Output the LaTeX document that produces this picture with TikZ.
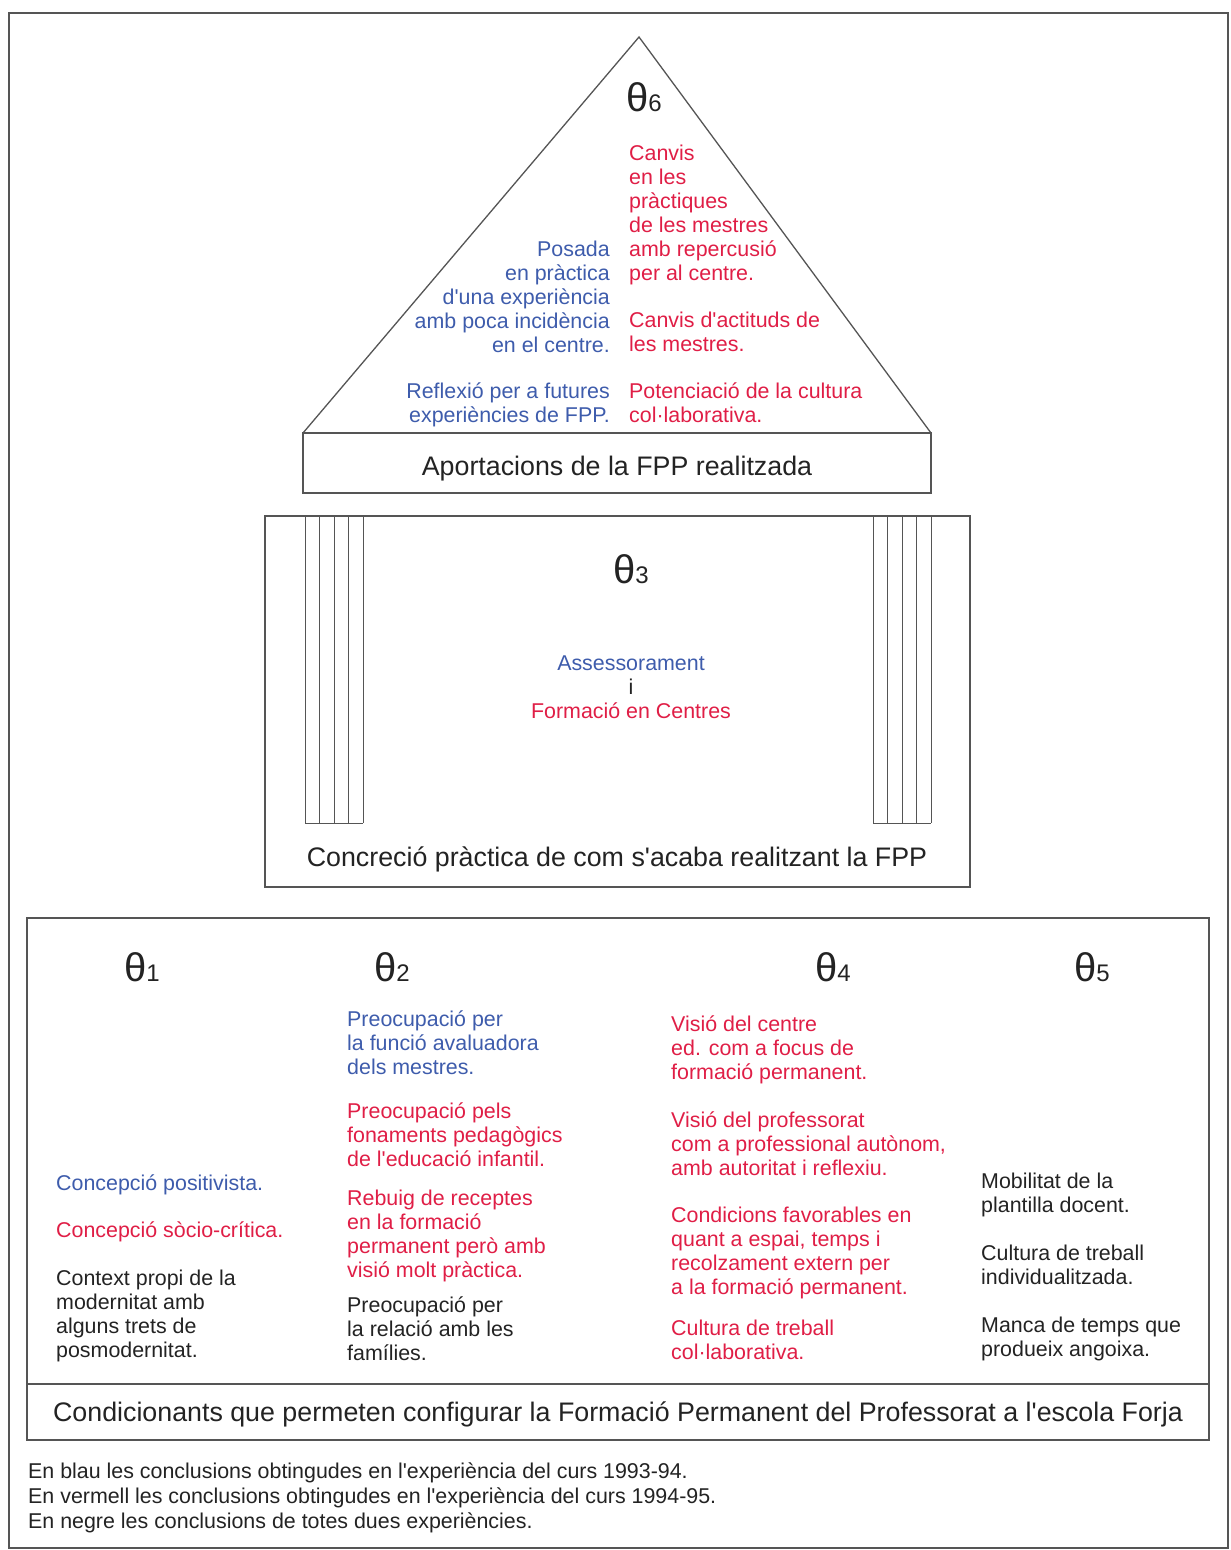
\documentclass[tikz,border=0pt]{standalone}
\usepackage{fontspec}
\setmainfont{Liberation Sans}
\newcommand\ap{\textquotesingle}
\definecolor{blueT}{RGB}{62,92,172}
\definecolor{redT}{RGB}{224,30,70}
\definecolor{blackT}{RGB}{35,35,35}
\definecolor{lineC}{RGB}{85,85,85}
\tikzset{
  frame/.style={draw=lineC, line width=1.3pt},
  thin/.style={draw=lineC, line width=0.9pt},
  body/.style={inner sep=0pt, font=\fontsize{21.4}{24}\selectfont, text=blackT},
  lblock/.style={body, anchor=north west, align=left},
  rblock/.style={body, anchor=north east, align=right},
  cblock/.style={body, anchor=north, align=center},
  title/.style={inner sep=0pt, anchor=base, font=\fontsize{26.8}{30}\selectfont, text=blackT},
  theta/.style={inner sep=0pt, anchor=base west, text=blackT},
}
\newcommand\thetalabel[1]{{\fontsize{40}{42}\selectfont θ}{\fontsize{24}{26}\selectfont #1}}
\begin{document}
\begin{tikzpicture}[x=1pt,y=-1pt]
\useasboundingbox (0,0) rectangle (1231,1550);
\fill[white] (0,0) rectangle (1231,1550);

% outer frame
\draw[draw=lineC, line width=2.2pt] (9,13) rectangle (1228,1548);

% roof: pediment and its base
\draw[frame] (303,433) -- (639,37) -- (931,433);
\draw[frame] (303,433) rectangle (931,493);
\node[title] (roofbase) at (617,475) {Aportacions de la FPP realitzada};
\node[theta] (t6) at (626,111) {\thetalabel{6}};
\node[rblock, text=blueT] (r1) at (610,239.2) {\strut Posada\\en pràctica\\d\ap una experiència\\amb poca incidència\\en el centre.};
\node[rblock, text=blueT] (r2) at (610,381.2) {\strut Reflexió per a futures\\experiències de FPP.};
\node[lblock, text=redT] (r3) at (629,143.2) {\strut Canvis\\en les\\pràctiques\\de les mestres\\amb repercusió\\per al centre.};
\node[lblock, text=redT] (r4) at (629,310.2) {\strut Canvis d\ap actituds de\\les mestres.};
\node[lblock, text=redT] (r5) at (629,381.2) {\strut Potenciació de la cultura\\col·laborativa.};

% middle body with two columns
\draw[frame] (265,516) rectangle (970,887);
\foreach \x in {305,319.5,334,348.5,363} \draw[thin] (\x,516) -- (\x,823);
\draw[thin] (305,823) -- (363,823);
\foreach \x in {873,887.5,902,916.5,931} \draw[thin] (\x,516) -- (\x,823);
\draw[thin] (873,823) -- (931,823);
\node[theta] (t3) at (613,583) {\thetalabel{3}};
\node[cblock] (mid) at (631,653.2) {\strut{\color{blueT}Assessorament}\\i\\{\color{redT}Formació en Centres}};
\node[title] (midbase) at (617,866) {Concreció pràctica de com s\ap acaba realitzant la FPP};

% foundation
\draw[frame] (27,918) rectangle (1209,1440);
\draw[frame] (27,1384) -- (1209,1384);
\node[title] (foot) at (618,1421) {Condicionants que permeten configurar la Formació Permanent del Professorat a l\ap escola Forja};

\node[theta] (t1) at (124,981) {\thetalabel{1}};
\node[theta] (t2) at (374,981) {\thetalabel{2}};
\node[theta] (t4) at (815,981) {\thetalabel{4}};
\node[theta] (t5) at (1074,981) {\thetalabel{5}};

% column 1
\node[lblock, text=blueT] (a1) at (56,1173.2) {\strut Concepció positivista.};
\node[lblock, text=redT] (a2) at (56,1220.2) {\strut Concepció sòcio-crítica.};
\node[lblock] (a3) at (56,1268.2) {\strut Context propi de la\\modernitat amb\\alguns trets de\\posmodernitat.};

% column 2
\node[lblock, text=blueT] (b1) at (347,1009.2) {\strut Preocupació per\\la funció avaluadora\\dels mestres.};
\node[lblock, text=redT] (b2) at (347,1101.2) {\strut Preocupació pels\\fonaments pedagògics\\de l\ap educació infantil.};
\node[lblock, text=redT] (b3) at (347,1188.2) {\strut Rebuig de receptes\\en la formació\\permanent però amb\\visió molt pràctica.};
\node[lblock] (b4) at (347,1295.2) {\strut Preocupació per\\la relació amb les\\famílies.};

% column 4
\node[lblock, text=redT] (c1) at (671,1014.2) {\strut Visió del centre\\ed. com a focus de\\formació permanent.};
\node[lblock, text=redT] (c2) at (671,1110.2) {\strut Visió del professorat\\com a professional autònom,\\amb autoritat i reflexiu.};
\node[lblock, text=redT] (c3) at (671,1205.2) {\strut Condicions favorables en\\quant a espai, temps i\\recolzament extern per\\a la formació permanent.};
\node[lblock, text=redT] (c4) at (671,1318.2) {\strut Cultura de treball\\col·laborativa.};

% column 5
\node[lblock] (d1) at (981,1171.2) {\strut Mobilitat de la\\plantilla docent.};
\node[lblock] (d2) at (981,1243.2) {\strut Cultura de treball\\individualitzada.};
\node[lblock] (d3) at (981,1315.2) {\strut Manca de temps que\\produeix angoixa.};

% legend
\node[lblock, font=\fontsize{21.4}{25}\selectfont] (legend) at (28,1460.5) {\strut En blau les conclusions obtingudes en l\ap experiència del curs 1993-94.\\En vermell les conclusions obtingudes en l\ap experiència del curs 1994-95.\\En negre les conclusions de totes dues experiències.};
\end{tikzpicture}
\end{document}
